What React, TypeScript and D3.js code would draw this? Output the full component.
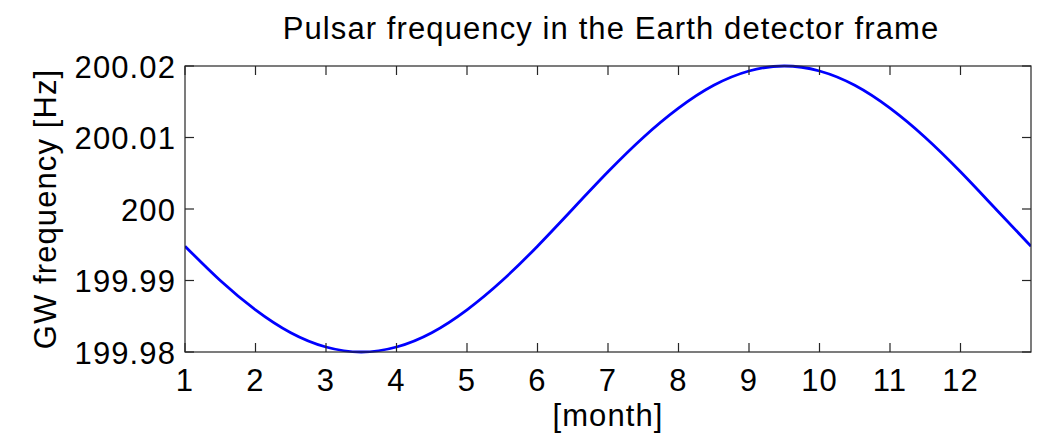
import React from "react";
import * as d3 from "d3";

// Sampled readings of the detected GW frequency, every half month
const months = [1, 1.5, 2, 2.5, 3, 3.5, 4, 4.5, 5, 5.5, 6, 6.5, 7, 7.5, 8, 8.5, 9, 9.5, 10, 10.5, 11, 11.5, 12, 12.5, 13];
const freqHz = [
  199.9948, 199.99, 199.9859, 199.9827, 199.9807, 199.98, 199.9807, 199.9827, 199.9859,
  199.99, 199.9948, 200.0, 200.0052, 200.01, 200.0141, 200.0173, 200.0193, 200.02,
  200.0193, 200.0173, 200.0141, 200.01, 200.0052, 200.0, 199.9948,
];
const xTicks = [1, 2, 3, 4, 5, 6, 7, 8, 9, 10, 11, 12];
const yTicks = [199.98, 199.99, 200, 200.01, 200.02];
const yTickLabels = ["199.98", "199.99", "200", "200.01", "200.02"];

const W = 1042;
const H = 433;
const M = { left: 185, right: 1031, top: 66, bottom: 352 };
const FONT = "'Liberation Sans', Arial, Helvetica, sans-serif";
const FS = 31;
const LS = 1.1;
const TICK = 9;

export default function App() {
  const x = d3.scaleLinear().domain([1, 13]).range([M.left, M.right]);
  const y = d3.scaleLinear().domain([199.98, 200.02]).range([M.bottom, M.top]);
  const pts = months.map((m, i) => [m, freqHz[i]] as [number, number]);
  const line = d3
    .line<[number, number]>()
    .x((d) => x(d[0]))
    .y((d) => y(d[1]))
    .curve(d3.curveNatural);
  const axisColor = "#262626";
  const cx = (M.left + M.right) / 2;

  return (
    <svg
      width={W}
      height={H}
      style={{ position: "absolute", left: 0, top: 0, background: "#fff" }}
      fontFamily={FONT}
      fontSize={FS}
      letterSpacing={LS}
    >
      <rect x={0} y={0} width={W} height={H} fill="#fff" />
      <defs>
        <clipPath id="plotArea">
          <rect x={M.left} y={M.top - 2} width={M.right - M.left} height={M.bottom - M.top + 4} />
        </clipPath>
      </defs>
      <path d={line(pts) ?? ""} fill="none" stroke="#0000ff" strokeWidth={2.8} clipPath="url(#plotArea)" />
      <rect
        x={M.left}
        y={M.top}
        width={M.right - M.left}
        height={M.bottom - M.top}
        fill="none"
        stroke={axisColor}
        strokeWidth={1.2}
      />
      {xTicks.map((t) => (
        <g key={"x" + t}>
          <line x1={x(t)} x2={x(t)} y1={M.bottom} y2={M.bottom - TICK} stroke={axisColor} strokeWidth={1.2} />
          <line x1={x(t)} x2={x(t)} y1={M.top} y2={M.top + TICK} stroke={axisColor} strokeWidth={1.2} />
          <text x={x(t)} y={391} textAnchor="middle" fill="#000">
            {t}
          </text>
        </g>
      ))}
      {yTicks.map((t, i) => (
        <g key={"y" + t}>
          <line x1={M.left} x2={M.left + TICK} y1={y(t)} y2={y(t)} stroke={axisColor} strokeWidth={1.2} />
          <line x1={M.right} x2={M.right - TICK} y1={y(t)} y2={y(t)} stroke={axisColor} strokeWidth={1.2} />
          <text x={176} y={y(t) + 11.5} textAnchor="end" fill="#000">
            {yTickLabels[i]}
          </text>
        </g>
      ))}
      <text x={cx + 3} y={39} textAnchor="middle" fill="#000">
        Pulsar frequency in the Earth detector frame
      </text>
      <text x={cx} y={426} textAnchor="middle" fill="#000">
        [month]
      </text>
      <text
        transform={`translate(56, ${(M.top + M.bottom) / 2}) rotate(-90)`}
        textAnchor="middle"
        fill="#000"
      >
        GW frequency [Hz]
      </text>
    </svg>
  );
}
